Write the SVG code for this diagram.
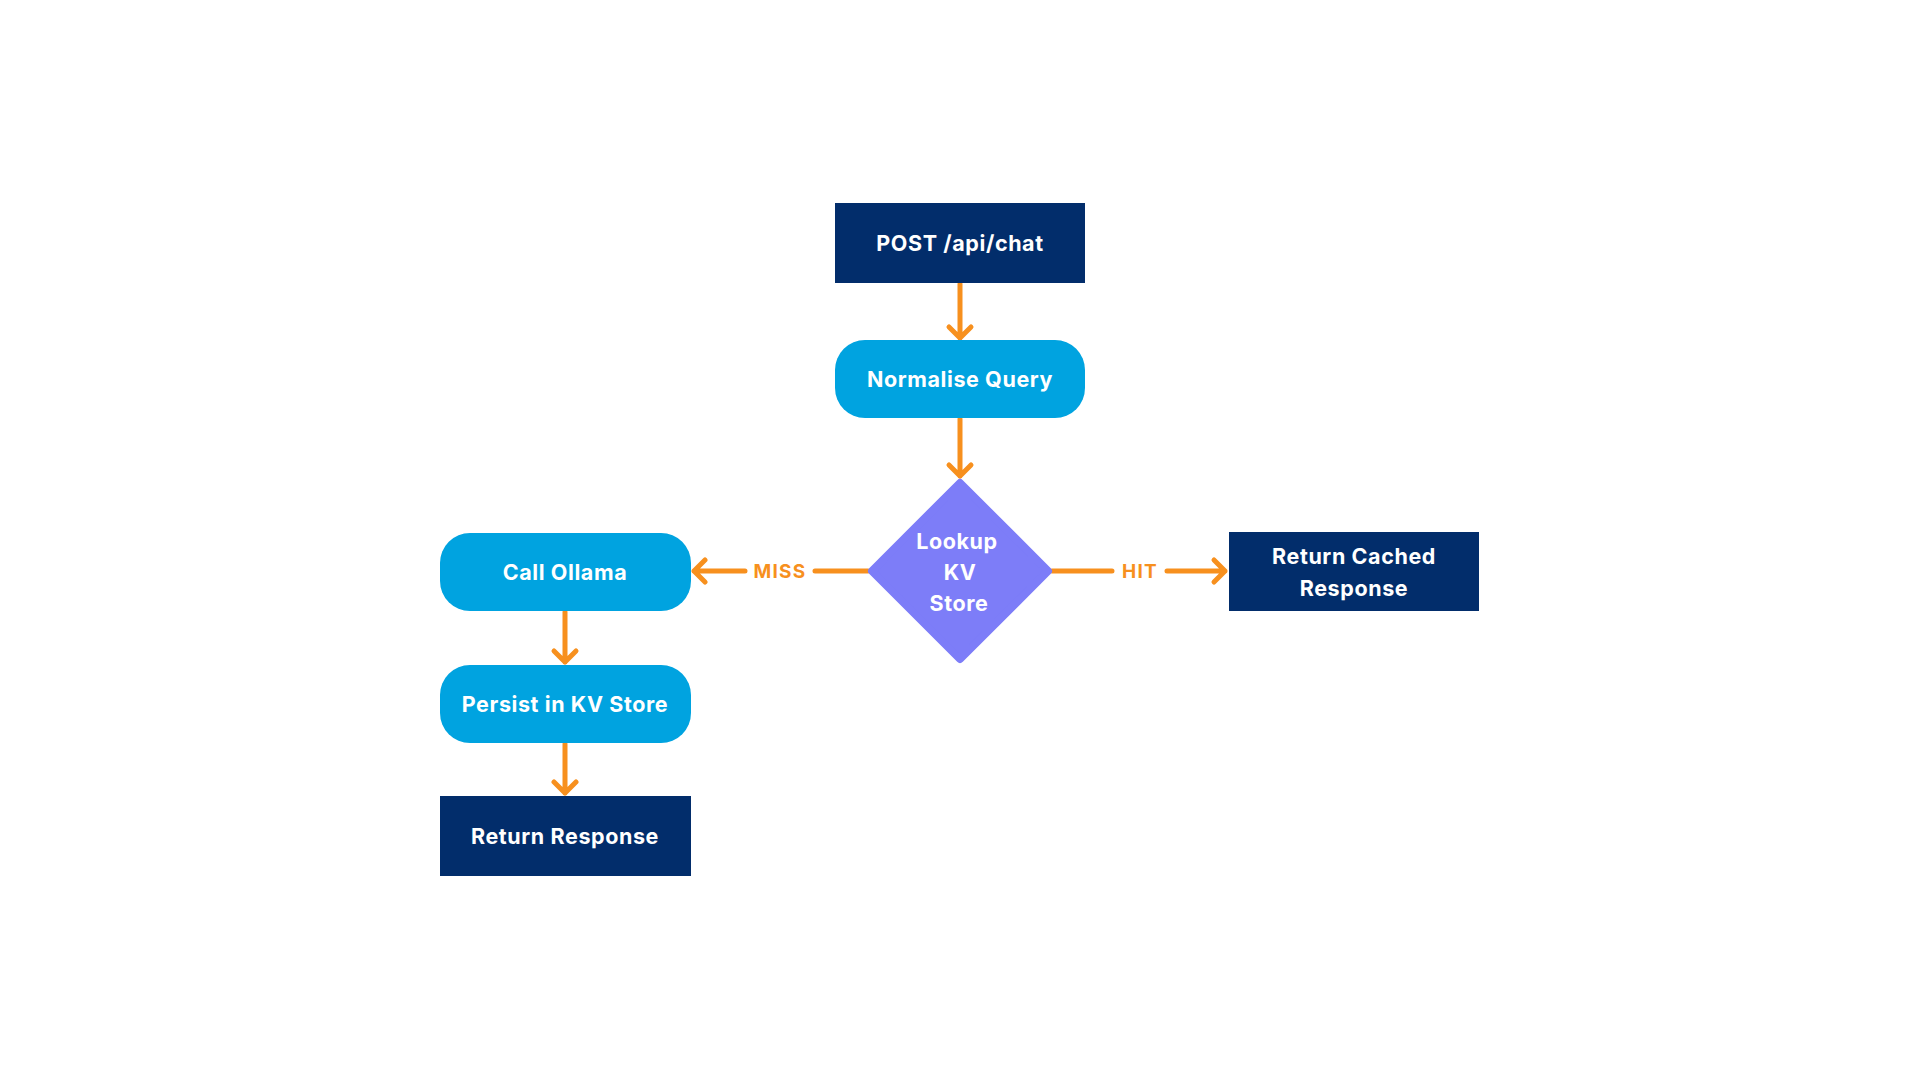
<svg xmlns="http://www.w3.org/2000/svg" width="1920" height="1080" viewBox="0 0 1920 1080">
<style>
.navy{fill:#022D6B}
.blue{fill:#00A3E0}
.dia{fill:#7D7DF8;stroke:#7D7DF8;stroke-width:8;stroke-linejoin:round}
.t{font-family:Inter,"Open Sans","Liberation Sans",sans-serif;font-weight:700;font-size:21.5px;letter-spacing:0.6px;fill:#FFFFFF;text-anchor:middle;dominant-baseline:central}
.lbl{font-family:Inter,"Open Sans","Liberation Sans",sans-serif;font-weight:700;font-size:19px;fill:#F7901E;text-anchor:middle;dominant-baseline:central;letter-spacing:1.3px}
.ln{fill:none;stroke:#F7901E;stroke-width:5;stroke-linecap:round;stroke-linejoin:round}
</style>
<rect width="1920" height="1080" fill="#FFFFFF"/>
<g id="connectors">
<path class="ln" d="M960 284V338M949 327L960 338L971 327"/>
<path class="ln" d="M960 419V476M949 465L960 476L971 465"/>
<path class="ln" d="M868 571H815M745 571H694M705 560L694 571L705 582"/>
<text class="lbl" x="780" y="571">MISS</text>
<path class="ln" d="M1052 571H1112M1167 571H1225M1214 560L1225 571L1214 582"/>
<text class="lbl" x="1140" y="571">HIT</text>
<path class="ln" d="M565 612V662M554 651L565 662L576 651"/>
<path class="ln" d="M565 744V793M554 782L565 793L576 782"/>
</g>
<g id="post">
<rect class="navy" x="835" y="203" width="250" height="80"/>
<text class="t" x="960" y="243">POST /api/chat</text>
</g>
<g id="normalise">
<rect class="blue" x="835" y="340" width="250" height="78" rx="30"/>
<text class="t" x="960" y="379">Normalise Query</text>
</g>
<g id="lookup">
<path class="dia" d="M960 483L1048 571L960 659L872 571Z"/>
<text class="t" x="957" y="541">Lookup</text>
<text class="t" x="960" y="572">KV</text>
<text class="t" x="959" y="603">Store</text>
</g>
<g id="cached">
<rect class="navy" x="1229" y="532" width="250" height="79"/>
<text class="t" x="1354" y="556">Return Cached</text>
<text class="t" x="1354" y="588">Response</text>
</g>
<g id="ollama">
<rect class="blue" x="440" y="533" width="251" height="78" rx="30"/>
<text class="t" x="565" y="572">Call Ollama</text>
</g>
<g id="persist">
<rect class="blue" x="440" y="665" width="251" height="78" rx="30"/>
<text class="t" x="565" y="704">Persist in KV Store</text>
</g>
<g id="return">
<rect class="navy" x="440" y="796" width="251" height="80"/>
<text class="t" x="565" y="836">Return Response</text>
</g>
</svg>
